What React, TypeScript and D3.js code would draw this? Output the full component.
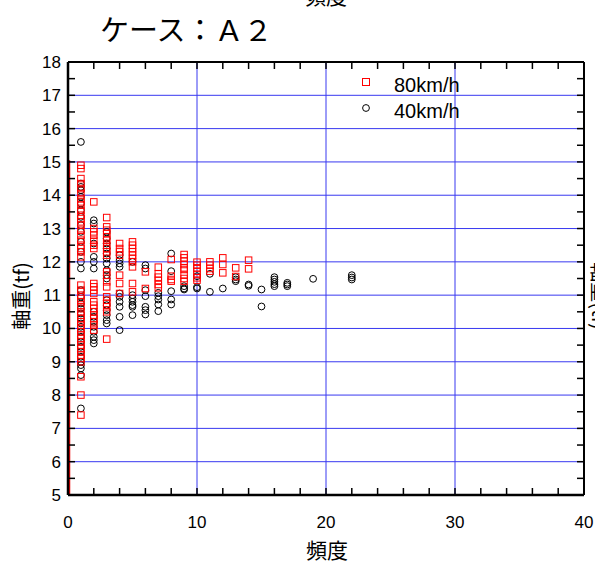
import React from "react";
import * as d3 from "d3";

const W = 595;
const H = 563;

const xTicksMajor = [0, 10, 20, 30, 40];
const yTicksMajor = [5, 6, 7, 8, 9, 10, 11, 12, 13, 14, 15, 16, 17, 18];
const seriesNames = ["80km/h", "40km/h"];

// 80km/h (red squares): [frequency, axle load list]
const red80: [number, number[]][] = [
  [1, [14.9, 14.8, 14.5, 14.35, 14.2, 14.05, 13.9, 13.8, 13.7, 13.55, 13.4, 13.3, 13.2, 13.1, 12.95, 12.8, 12.65, 12.5, 12.4, 12.3, 12.15,
       11.3, 11.15, 11.0, 10.9, 10.8, 10.65, 10.5, 10.4, 10.3, 10.2, 10.1, 10.0, 9.9, 9.8, 9.7, 9.6, 9.5, 9.4, 9.3, 9.2, 9.1, 9.0, 8.55, 8.0, 7.4]],
  [2, [13.8, 13.0, 12.9, 12.8, 12.65, 12.5, 12.4, 11.35, 11.25, 11.15, 11.05, 10.8, 10.7, 10.6, 10.5, 10.4, 10.3, 10.2, 10.1, 9.95]],
  [3, [13.33, 13.05, 12.95, 12.85, 12.75, 12.65, 12.5, 12.4, 12.3, 12.2, 11.7, 11.6, 11.4, 11.25, 10.95, 10.85, 10.75, 10.65, 10.5, 9.68]],
  [4, [12.55, 12.4, 12.3, 12.2, 11.6, 11.35, 11.05]],
  [5, [12.6, 12.5, 12.4, 12.3, 12.2, 12.1, 12.0, 11.85, 11.35, 11.1]],
  [6, [11.7, 11.2]],
  [7, [11.84, 11.64, 11.54, 11.44, 11.32, 11.22]],
  [8, [12.07, 11.57, 11.47, 11.42]],
  [9, [12.22, 12.12, 12.02, 11.92, 11.82, 11.77, 11.6, 11.5, 11.42]],
  [10, [11.99, 11.9, 11.82, 11.72, 11.62, 11.52, 11.45]],
  [11, [12.0, 11.9, 11.8, 11.72]],
  [12, [12.12, 11.92, 11.67]],
  [13, [11.82, 11.56]],
  [14, [12.05, 11.79]],
];

// 40km/h (black circles)
const black40: [number, number[]][] = [
  [1, [15.6, 14.35, 14.25, 14.15, 13.95, 13.75, 13.55, 13.35, 13.1, 12.9, 12.6, 12.3, 12.0, 11.8,
       11.15, 10.95, 10.75, 10.6, 10.45, 10.3, 10.15, 10.05, 9.9, 9.75, 9.6, 9.45, 9.3, 9.15, 9.0, 8.9, 8.8, 8.6, 7.6]],
  [2, [13.25, 13.15, 12.55, 12.15, 12.0, 11.8, 10.5, 10.35, 10.2, 10.05, 9.9, 9.75, 9.65, 9.55]],
  [3, [12.9, 12.7, 12.55, 12.4, 12.25, 12.1, 11.95, 11.75, 11.6, 11.5, 10.85, 10.7, 10.55, 10.4, 10.25, 10.15]],
  [4, [12.2, 12.05, 11.95, 11.85, 11.05, 10.95, 10.8, 10.65, 10.35, 9.95]],
  [5, [12.0, 11.0, 10.9, 10.8, 10.7, 10.65, 10.4]],
  [6, [11.9, 11.8, 11.15, 10.97, 10.65, 10.55, 10.42]],
  [7, [11.07, 10.97, 10.87, 10.72, 10.52]],
  [8, [12.25, 11.72, 11.12, 10.87, 10.72]],
  [9, [11.27, 11.2, 11.17]],
  [10, [11.57, 11.24, 11.2]],
  [11, [11.64, 11.1]],
  [12, [11.2]],
  [13, [11.54, 11.47, 11.42]],
  [14, [11.32, 11.28]],
  [15, [11.17, 10.66]],
  [16, [11.54, 11.47, 11.4, 11.33, 11.27]],
  [17, [11.37, 11.32, 11.27]],
  [19, [11.49]],
  [22, [11.6, 11.53, 11.47]],
];

// dense run of values hugging frequency 0 (drawn as a thin red line)
const zeroRedRange = [5, 15.05];

const x = d3.scaleLinear().domain([0, 40]).range([68, 584]);
const y = d3.scaleLinear().domain([5, 18]).range([495, 62]);

const numFont = "'Liberation Sans', Arial, sans-serif";
const jpFont = "'Noto Sans CJK JP', sans-serif";

export default function App() {
  const xMinor = d3.range(0, 40.001, 2);
  const yMinor = d3.range(5, 18.001, 0.5);
  const gridBlue = "#3838f0";
  const tickLen = 7;
  const redPts: [number, number][] = red80.flatMap(([f, vs]) => vs.map((v) => [f, v] as [number, number]));
  const blackPts: [number, number][] = black40.flatMap(([f, vs]) => vs.map((v) => [f, v] as [number, number]));
  const sq = 6.5;
  return (
    <svg width={W} height={H} style={{ position: "absolute", left: 0, top: 0, background: "#fff" }}>
      <defs>
        <clipPath id="plot">
          <rect x={x(0)} y={y(18)} width={x(40) - x(0)} height={y(5) - y(18)} />
        </clipPath>
      </defs>
      <rect x={0} y={0} width={W} height={H} fill="#fff" />
      {/* clipped top text */}
      <text x={326} y={4} textAnchor="middle" fontFamily={jpFont} fontSize={21} fill="#000">頻度</text>
      {/* title */}
      <text x={100} y={41} fontFamily={jpFont} fontSize={29} fill="#000">ケース：Ａ２</text>
      {/* grid */}
      {yTicksMajor.filter((t) => t > 5 && t < 18).map((t) => (
        <line key={"gy" + t} x1={x(0)} x2={x(40)} y1={y(t)} y2={y(t)} stroke={gridBlue} strokeWidth={1} />
      ))}
      {xTicksMajor.filter((t) => t > 0 && t < 40).map((t) => (
        <line key={"gx" + t} x1={x(t)} x2={x(t)} y1={y(5)} y2={y(18)} stroke={gridBlue} strokeWidth={1} />
      ))}
      {/* data */}
      <g clipPath="url(#plot)">
        <line x1={x(0) + 1.5} x2={x(0) + 1.5} y1={y(zeroRedRange[0])} y2={y(zeroRedRange[1])} stroke="#e00" strokeWidth={1.5} />
        {blackPts.map(([f, v], i) => (
          <circle key={"b" + i} cx={x(f)} cy={y(v)} r={3.4} fill="none" stroke="#000" strokeWidth={1} />
        ))}
        {redPts.map(([f, v], i) => (
          <rect key={"r" + i} x={x(f) - sq / 2} y={y(v) - sq / 2} width={sq} height={sq} fill="none" stroke="#f00" strokeWidth={1} />
        ))}
      </g>
      {/* frame */}
      <line x1={x(0)} x2={x(40)} y1={y(18)} y2={y(18)} stroke="#000" strokeWidth={2} />
      <line x1={x(0)} x2={x(40)} y1={y(5)} y2={y(5)} stroke="#000" strokeWidth={2.5} />
      <line x1={x(0)} x2={x(0)} y1={y(5)} y2={y(18)} stroke="#000" strokeWidth={2.5} />
      <line x1={x(40)} x2={x(40)} y1={y(5)} y2={y(18)} stroke="#000" strokeWidth={2} />
      {/* ticks */}
      {xMinor.map((t) => (
        <g key={"xt" + t}>
          <line x1={x(t)} x2={x(t)} y1={y(5)} y2={y(5) - tickLen} stroke="#000" strokeWidth={1.5} />
          <line x1={x(t)} x2={x(t)} y1={y(18)} y2={y(18) + tickLen} stroke="#000" strokeWidth={1.5} />
        </g>
      ))}
      {yMinor.map((t) => (
        <g key={"yt" + t}>
          <line x1={x(0)} x2={x(0) + tickLen} y1={y(t)} y2={y(t)} stroke="#000" strokeWidth={1.5} />
          <line x1={x(40)} x2={x(40) - tickLen} y1={y(t)} y2={y(t)} stroke="#000" strokeWidth={1.5} />
        </g>
      ))}
      {/* tick labels */}
      {xTicksMajor.map((t) => (
        <text key={"xl" + t} x={x(t)} y={528} textAnchor="middle" fontFamily={numFont} fontSize={17} fill="#000">{t}</text>
      ))}
      {yTicksMajor.map((t) => (
        <text key={"yl" + t} x={61} y={y(t) + 6} textAnchor="end" fontFamily={numFont} fontSize={17} fill="#000">{t}</text>
      ))}
      {/* axis titles */}
      <text x={327} y={558} textAnchor="middle" fontFamily={jpFont} fontSize={21} fill="#000">頻度</text>
      <text transform={`translate(29,296) rotate(-90)`} textAnchor="middle" fontFamily={jpFont} fontSize={20} fill="#000">軸重(tf)</text>
      <text transform={`translate(592,296) rotate(90)`} textAnchor="middle" fontFamily={jpFont} fontSize={20} fill="#000">軸重(tf)</text>
      {/* legend */}
      <rect x={366 - 3.5} y={82 - 3.5} width={7} height={7} fill="none" stroke="#f00" strokeWidth={1} />
      <text x={394} y={92} fontFamily={numFont} fontSize={20} fill="#000">{seriesNames[0]}</text>
      <circle cx={366} cy={108} r={3.4} fill="none" stroke="#000" strokeWidth={1} />
      <text x={394} y={118} fontFamily={numFont} fontSize={20} fill="#000">{seriesNames[1]}</text>
    </svg>
  );
}
